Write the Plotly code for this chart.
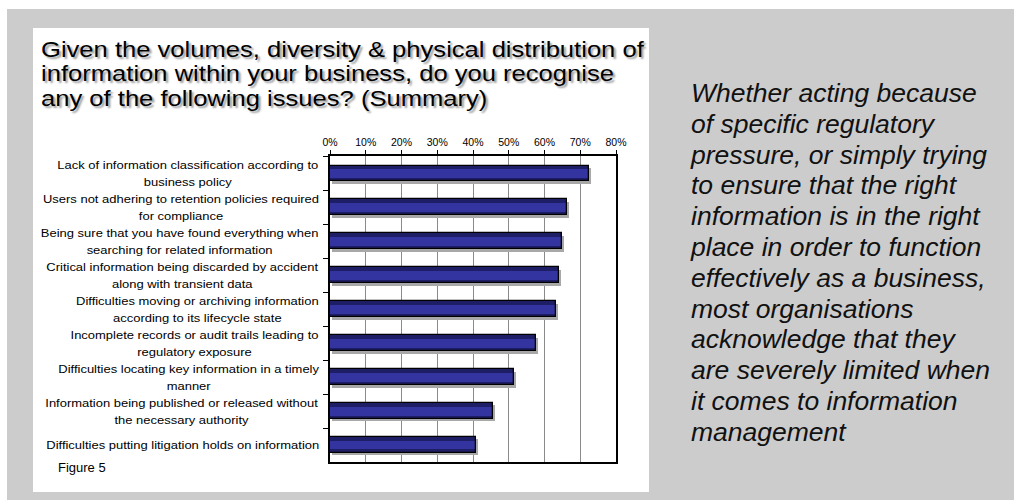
import plotly.graph_objects as go

# Survey summary: share of respondents recognising each issue (%)
issues = [
    "Lack of information classification according to<br>business policy",
    "Users not adhering to retention policies required<br>for compliance",
    "Being sure that you have found everything when<br>searching for related information",
    "Critical information being discarded by accident<br>along with transient data",
    "Difficulties moving or archiving information<br>according to its lifecycle state",
    "Incomplete records or audit trails leading to<br>regulatory exposure",
    "Difficulties locating key information in a timely<br>manner",
    "Information being published or released without<br>the necessary authority",
    "Difficulties putting litigation holds on information",
]
share_pct = [72.4, 66.2, 64.8, 64.0, 63.1, 57.6, 51.4, 45.6, 40.8]
tick_vals = [0, 10, 20, 30, 40, 50, 60, 70, 80]
tick_text = ["0%", "10%", "20%", "30%", "40%", "50%", "60%", "70%", "80%"]

title_lines = [
    "Given the volumes, diversity & physical distribution of",
    "information within your business, do you recognise",
    "any of the following issues? (Summary)",
]
side_lines = [
    "Whether acting because",
    "of specific regulatory",
    "pressure, or simply trying",
    "to ensure that the right",
    "information is in the right",
    "place in order to function",
    "effectively as a business,",
    "most organisations",
    "acknowledge that they",
    "are severely limited when",
    "it comes to information",
    "management",
]

W, H = 1014, 500
FONT = "Liberation Sans, Arial, sans-serif"
GREY = "#cccccc"


def px(x):
    return x / W


def py(y):
    return 1 - y / H


def tight_block(lines, glyph_px):
    # glyphs drawn at glyph_px inside a different base font, so the
    # line pitch (1.3 x base size) is set independently of glyph size
    return "<br>".join(
        f"<span style='font-size:{glyph_px}px'>{ln}</span>" for ln in lines)


fig = go.Figure()

# soft drop shadow behind each bar (nudged right and down)
fig.add_trace(go.Bar(y=issues, x=share_pct, base=0.6, orientation="h",
                     width=0.47, offset=-0.235 + 0.07,
                     marker=dict(color="#a8a8a8", line=dict(width=0)),
                     hoverinfo="skip"))
# bar body: dark edge, lighter centre stripe, then black outline on top
fig.add_trace(go.Bar(y=issues, x=share_pct, orientation="h", width=0.47,
                     marker=dict(color="#1e1e66", line=dict(width=0)),
                     hoverinfo="skip"))
fig.add_trace(go.Bar(y=issues, x=share_pct, orientation="h", width=0.26,
                     marker=dict(color="#3434a0", line=dict(width=0)),
                     hoverinfo="skip"))
fig.add_trace(go.Bar(y=issues, x=share_pct, orientation="h", width=0.47,
                     marker=dict(color="rgba(0,0,0,0)",
                                 line=dict(color="#000000", width=1.3)),
                     hovertemplate="%{x:.0f}%<extra></extra>"))

annotations = []
# category labels (annotation indices 0..8): 11.8px glyphs, 16.6px pitch
for lab in issues:
    annotations.append(dict(
        x=px(321), xref="paper", y=lab, yref="y",
        text=tight_block(lab.split("<br>"), 11.8),
        xanchor="right", yanchor="middle", align="center", showarrow=False,
        font=dict(family=FONT, size=16.6 / 1.3, color="#000000")))

# heading (index 9): 21.5px glyphs on a 24.5px line pitch
annotations.append(dict(
    x=px(39), xref="paper", y=py(74), yref="paper",
    text=tight_block(title_lines, 21.5),
    xanchor="left", yanchor="middle", align="left", showarrow=False,
    font=dict(family=FONT, size=24.5 / 1.3, color="#000000",
              shadow="2px 2px 2px #9a9a9a")))

# commentary (index 10): 26.5px italic glyphs on a 30.8px line pitch
annotations.append(dict(
    x=px(688), xref="paper", y=py(262), yref="paper",
    text=tight_block(side_lines, 26.5),
    xanchor="left", yanchor="middle", align="left", showarrow=False,
    font=dict(family=FONT, size=30.8 / 1.3, color="#111111", style="italic")))

annotations.append(dict(
    x=px(56), xref="paper", y=py(467), yref="paper", text="Figure 5",
    xanchor="left", yanchor="middle", showarrow=False,
    font=dict(family=FONT, size=13, color="#000000")))

shapes = [
    # thin white strips along the top and left edges
    dict(type="rect", xref="paper", yref="paper", x0=0, x1=1, y0=py(9), y1=1,
         fillcolor="#ffffff", line=dict(width=0), layer="below"),
    dict(type="rect", xref="paper", yref="paper", x0=0, x1=px(7), y0=0, y1=1,
         fillcolor="#ffffff", line=dict(width=0), layer="below"),
    # white panel holding the chart
    dict(type="rect", xref="paper", yref="paper", x0=px(33), x1=px(649),
         y0=py(492), y1=py(28), fillcolor="#ffffff", line=dict(width=0),
         layer="below"),
]

fig.update_layout(
    width=W, height=H,
    margin=dict(l=0, r=0, t=0, b=0, autoexpand=False),
    paper_bgcolor=GREY, plot_bgcolor="#ffffff",
    barmode="overlay", showlegend=False, bargap=0,
    annotations=annotations, shapes=shapes,
    xaxis=dict(domain=[px(330), px(616)], range=[0, 80], side="top",
               tickmode="array", tickvals=tick_vals, ticktext=tick_text,
               ticks="outside", ticklen=4, tickcolor="#000000",
               showgrid=True, gridcolor="#8a8a8a", gridwidth=1,
               showline=True, linecolor="#000000", linewidth=1.5, mirror=True,
               zeroline=False, fixedrange=True,
               tickfont=dict(family=FONT, size=10.5, color="#000000")),
    yaxis=dict(domain=[py(462), py(156)], autorange="reversed",
               type="category", showticklabels=False,
               ticks="outside", ticklen=5, tickcolor="#000000",
               tickson="boundaries", showgrid=False,
               showline=True, linecolor="#000000", linewidth=1.5, mirror=True,
               fixedrange=True),
)

# page tweaks: no scrollbars, grey page, and horizontally widened lettering
# for the heading and the category labels
page_js = """
document.documentElement.style.overflow = 'hidden';
document.body.style.overflow = 'hidden';
document.body.style.margin = '0';
document.body.style.background = '%s';
function widen(idx, k, origin) {
  document.querySelectorAll('g.annotation[data-index="' + idx + '"] text.annotation-text')
    .forEach(function (t) {
      t.style.transformBox = 'fill-box';
      t.style.transformOrigin = origin;
      t.style.transform = 'scaleX(' + k + ')';
    });
}
widen(9, 1.19, 'left center');
for (var i = 0; i < 9; i++) { widen(i, 1.1, 'right center'); }
""" % GREY
fig.write_html("out.html", post_script=page_js)
